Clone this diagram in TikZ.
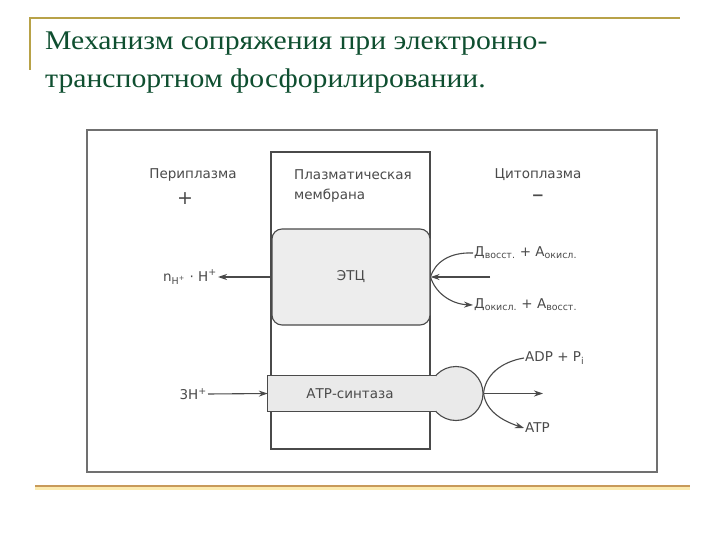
\documentclass[tikz,border=0pt]{standalone}
\usepackage{fontspec}
\setmainfont{Liberation Serif}
\newfontfamily\titlefont[FakeStretch=1.1]{Liberation Serif}
\newfontfamily\diagfont{DejaVu Sans}
\usetikzlibrary{arrows.meta}
\definecolor{titlegreen}{HTML}{0F4F30}
\definecolor{goldtop}{HTML}{B8A248}
\definecolor{goldbot}{HTML}{C89A5A}
\definecolor{glow}{HTML}{FCEBB0}
\definecolor{ink}{HTML}{4A4A4A}
\definecolor{framec}{HTML}{707070}
\definecolor{etcgrey}{HTML}{EDEDED}
\definecolor{synthgrey}{HTML}{EAEAEA}
\begin{document}
\begin{tikzpicture}[x=1pt,y=-1pt,
  lbl/.style={font=\diagfont\fontsize{13.5}{16}\selectfont, text=ink, inner sep=1pt},
  ln/.style={draw=ink, line width=1.1pt},
  arr/.style={ln, -{Stealth[length=9pt,width=6pt]}},
  titletext/.style={anchor=base west, font=\titlefont\fontsize{27}{30}\selectfont, text=titlegreen, inner sep=0pt}]
\useasboundingbox (0,0) rectangle (720,540);
\fill[white] (0,0) rectangle (720,540);
% slide decoration
\draw[goldtop, line width=1.8pt] (30,18) -- (680,18);
\draw[goldtop, line width=1.8pt] (30,17.1) -- (30,70);
\draw[glow, line width=5pt] (35,487) -- (690,487);
\draw[goldbot, line width=1.8pt] (35,486) -- (690,486);
% title
\node[titletext] (t1) at (45,50) {Механизм сопряжения при электронно-};
\node[titletext] (t2) at (45,88) {транспортном фосфорилировании.};
% diagram frame
\node[draw=framec, line width=1.1pt, minimum width=570pt, minimum height=342pt, inner sep=0pt] (frame) at (372,301) {};
% membrane
\node[ln, minimum width=159pt, minimum height=297pt, inner sep=0pt] (mem) at (350.5,300.5) {};
% ETC
\node[ln, fill=etcgrey, rounded corners=10pt, minimum width=158pt, minimum height=96pt, inner sep=0pt,
      font=\diagfont\fontsize{13.5}{16}\selectfont, text=ink] (etc) at (351,277) {ЭТЦ};
% ATP synthase
\node[ln, fill=synthgrey, circle, minimum size=54pt, inner sep=0pt] (bulb) at (456,393.5) {};
\node[fill=synthgrey, minimum width=168pt, minimum height=35pt, inner sep=0pt,
      font=\diagfont\fontsize{13.5}{16}\selectfont, text=ink] (synth) at (352,393.5) {\hspace*{-4pt}АТР-синтаза};
\draw[ln] (synth.north east) -- (synth.north west) -- (synth.south west) -- (synth.south east);
% labels
\node[lbl] (peri) at (193,175) {Периплазма};
\node[lbl, font=\diagfont\fontsize{19}{20}\selectfont] (plus) at (185,199) {+};
\node[lbl, anchor=west] (pm1) at (293,175) {Плазматическая};
\node[lbl, anchor=west] (pm2) at (293,196) {мембрана};
\node[lbl] (cyto) at (538,175) {Цитоплазма};
\node[lbl, font=\diagfont\bfseries\fontsize{15}{17}\selectfont] (minus) at (538,198) {−};
\node[lbl, anchor=east] (nh) at (218,277) {n\textsubscript{H\textsuperscript{+}} · H\textsuperscript{+}};
\node[lbl, anchor=west] (dv) at (473,253) {Д\textsubscript{восст.} + А\textsubscript{окисл.}};
\node[lbl, anchor=west] (dok) at (473,305) {Д\textsubscript{окисл.} + А\textsubscript{восст.}};
\node[lbl, anchor=west] (adp) at (524,358) {ADP + P\textsubscript{i}};
\node[lbl, anchor=west] (atp) at (524,428) {ATP};
\node[lbl, anchor=east] (h3) at (208,394) {3H\textsuperscript{+}};
\coordinate (inR) at (490,277);
\coordinate (outR) at (543,393.5);
% connectors
\draw[arr] (etc.west) -- (nh.east);
\draw[arr] (inR) -- (etc.east);
\draw[ln] (dv.west) .. controls (450,252) and (435,262) .. (etc.east);
\draw[arr] (etc.east) .. controls (435,292) and (450,304) .. (dok.west);
\draw[arr] (h3.east) -- (synth.west);
\draw[arr] (bulb.east) -- (outR);
\draw[ln] (adp.west) .. controls (500,362) and (485,376) .. (bulb.east);
\draw[arr] (bulb.east) .. controls (486,410) and (500,420) .. (atp.west);
\end{tikzpicture}
\end{document}
